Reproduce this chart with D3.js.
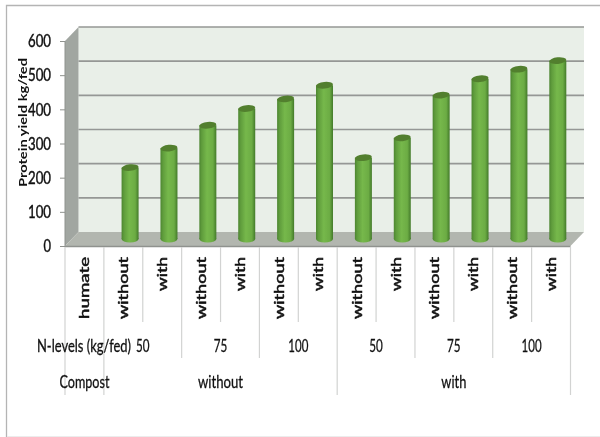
<!DOCTYPE html>
<html>
<head>
<meta charset="utf-8">
<script src="https://cdnjs.cloudflare.com/ajax/libs/d3/7.8.5/d3.min.js"></script>
<style>
html, body { margin: 0; padding: 0; background: #fff; }
svg { display: block; filter: blur(0.4px); }
text { font-family: Lato, "Liberation Sans", sans-serif; fill: #111; stroke: #111; stroke-width: 0.3px; }
</style>
</head>
<body>
<div id="chart"></div>
<script>
// Values
const humate = ["humate", "without", "with", "without", "with", "without", "with", "without", "with", "without", "with", "without", "with"];
const proteinYield = [null, 209, 266, 333, 382, 410, 450, 238, 296, 421, 469, 497, 522];
const yTicks = [0, 100, 200, 300, 400, 500, 600];
const nLevels = [
    { label: "50", start: 1, end: 3 },
    { label: "75", start: 3, end: 5 },
    { label: "100", start: 5, end: 7 },
    { label: "50", start: 7, end: 9 },
    { label: "75", start: 9, end: 11 },
    { label: "100", start: 11, end: 13 }
];
const compost = [
    { label: "without", start: 1, end: 7 },
    { label: "with", start: 7, end: 13 }
];

const width = 600;
const height = 437;
const depth = { x: 13.5, y: -14 };
const plot = { left: 65, right: 570.5, top: 41, bottom: 246 };

const svg = d3.select("#chart")
    .append("svg")
    .attr("width", width)
    .attr("height", height);

// Band edges are index based so the multi level axis can share them
const xEdge = d3.scaleLinear()
    .domain([0, 13])
    .range([plot.left, plot.right]);

const y = d3.scaleLinear()
    .domain([0, 600])
    .range([plot.bottom, plot.top]);

// Gradient for the cylinders
const defs = svg.append("defs");
const grad = defs.append("linearGradient").attr("id", "barFill");
[[0, "#4c8530"], [0.14, "#5f9c3c"], [0.45, "#76b84b"], [0.8, "#6cac44"], [1, "#437a2a"]].forEach(s => {
    grad.append("stop").attr("offset", s[0]).attr("stop-color", s[1]);
});

// Outer chart frame
svg.append("path")
    .attr("d", d3.line()([[6.5, 437], [6.5, 5.5], [600, 5.5]]))
    .attr("fill", "none")
    .attr("stroke", "#b4b4b4")
    .attr("stroke-width", 1.3);
svg.append("line")
    .attr("x1", 7).attr("x2", 600).attr("y1", 436.5).attr("y2", 436.5)
    .attr("stroke", "#ececec");

// Back wall
svg.append("rect")
    .attr("x", plot.left + depth.x)
    .attr("y", plot.top + depth.y)
    .attr("width", plot.right - plot.left)
    .attr("height", plot.bottom - plot.top)
    .attr("fill", "#e9efe8");

// Top edge of the wall
svg.append("line")
    .attr("x1", plot.left + depth.x)
    .attr("x2", plot.right + depth.x)
    .attr("y1", y(600) + depth.y)
    .attr("y2", y(600) + depth.y)
    .attr("stroke", "#959795")
    .attr("stroke-width", 1.4);

// Left wall and floor
svg.append("path")
    .attr("d", d3.line()([
        [plot.left, y(600)], [plot.left + depth.x, y(600) + depth.y],
        [plot.left + depth.x, y(0) + depth.y], [plot.left, y(0)]
    ]) + "Z")
    .attr("fill", "#a1a6a1");
svg.append("path")
    .attr("d", d3.line()([
        [plot.left, y(0)], [plot.left + depth.x, y(0) + depth.y],
        [plot.right + depth.x, y(0) + depth.y], [plot.right, y(0)]
    ]) + "Z")
    .attr("fill", "#b2b6af");

// Gridlines on the back wall
svg.selectAll(".grid")
    .data(yTicks.filter(d => d > 0 && d < 600))
    .enter()
    .append("line")
    .attr("class", "grid")
    .attr("x1", plot.left + depth.x)
    .attr("x2", plot.right + depth.x)
    .attr("y1", d => y(d) + depth.y)
    .attr("y2", d => y(d) + depth.y)
    .attr("stroke", "#959795")
    .attr("stroke-width", 1.6);

// Front edge of the floor and value axis
svg.append("line")
    .attr("x1", plot.left).attr("x2", plot.right)
    .attr("y1", y(0) + 0.5).attr("y2", y(0) + 0.5)
    .attr("stroke", "#8f928e").attr("stroke-width", 1.3);
svg.append("line")
    .attr("x1", plot.left).attr("x2", plot.left)
    .attr("y1", y(600)).attr("y2", y(0))
    .attr("stroke", "#8f928e");

const yAxis = d3.axisLeft(y)
    .tickValues(yTicks)
    .tickSize(5)
    .tickPadding(9)
    .tickFormat(d3.format("d"));
const yAxisG = svg.append("g")
    .attr("transform", "translate(" + plot.left + ",0)")
    .call(yAxis);
yAxisG.select(".domain").remove();
yAxisG.selectAll("line").attr("stroke", "#8f928e");
yAxisG.selectAll("text")
    .style("font-size", "18px")
    .style("font-family", "Lato, sans-serif")
    .style("stroke-width", "0.45px")
    .attr("lengthAdjust", "spacingAndGlyphs")
    .attr("textLength", d => d === 0 ? 7.5 : 23);

// Axis title
svg.append("text")
    .attr("transform", "translate(27,122.5) rotate(-90)")
    .attr("text-anchor", "middle")
    .style("font-size", "11px")
    .style("font-weight", "bold")
    .style("stroke-width", "0")
    .attr("lengthAdjust", "spacingAndGlyphs")
    .attr("textLength", 129)
    .text("Protein yield kg/fed");

// Cylinders stand half way into the depth of the floor
const barWidth = 17;
const barX = i => (xEdge(i) + xEdge(i + 1)) / 2 + depth.x / 2;
const barY = d => y(d) + depth.y / 2;
const bars = svg.selectAll(".bar")
    .data(proteinYield.map((v, i) => ({ v: v, i: i })).filter(d => d.v !== null))
    .enter()
    .append("g")
    .attr("class", "bar");

bars.append("ellipse")
    .attr("cx", d => barX(d.i))
    .attr("cy", barY(0))
    .attr("rx", barWidth / 2)
    .attr("ry", 3.4)
    .attr("fill", "url(#barFill)");
bars.append("rect")
    .attr("x", d => barX(d.i) - barWidth / 2)
    .attr("y", d => barY(d.v))
    .attr("width", barWidth)
    .attr("height", d => barY(0) - barY(d.v))
    .attr("fill", "url(#barFill)");
bars.append("ellipse")
    .attr("cx", d => barX(d.i))
    .attr("cy", d => barY(d.v))
    .attr("rx", barWidth / 2)
    .attr("ry", 3.3)
    .attr("transform", d => "rotate(-6," + barX(d.i) + "," + barY(d.v) + ")")
    .attr("fill", "#527f2e");

// Multi level category axis: separators
const dividerColor = "#d2d3d2";
const tier1Bottom = 322;
const tier2Bottom = 358;
const tier3Bottom = 395;

const tier1Edges = d3.range(0, 14);
const tier2Edges = [0, 1].concat(nLevels.map(d => d.end));
const tier3Edges = [0, 1].concat(compost.map(d => d.end));

function dividers(edges, top, bottom) {
    svg.append("g")
        .selectAll("line")
        .data(edges)
        .enter()
        .append("line")
        .attr("x1", d => xEdge(d))
        .attr("x2", d => xEdge(d))
        .attr("y1", top)
        .attr("y2", bottom)
        .attr("stroke", dividerColor)
        .attr("stroke-width", 1.2);
}
dividers(tier1Edges, y(0) + 1, tier1Bottom);
dividers(tier2Edges, tier1Bottom, tier2Bottom);
dividers(tier3Edges, tier2Bottom, tier3Bottom);

// Humate labels, rotated and stretched along the axis like the original
svg.selectAll(".humate")
    .data(humate)
    .enter()
    .append("text")
    .attr("class", "humate")
    .attr("transform", (d, i) => "translate(" + ((xEdge(i) + xEdge(i + 1)) / 2 + 5) + ",257) rotate(-90)")
    .attr("text-anchor", "end")
    .style("font-size", "14px")
    .style("stroke-width", "0.5px")
    .attr("lengthAdjust", "spacingAndGlyphs")
    .attr("textLength", d => d === "with" ? 34 : 62)
    .text(d => d);

// N-level and compost labels
const levelCenter = d => (xEdge(d.start) + xEdge(d.end)) / 2;
svg.selectAll(".level")
    .data(nLevels)
    .enter()
    .append("text")
    .attr("class", "level")
    .attr("x", levelCenter)
    .attr("y", 352)
    .attr("text-anchor", "middle")
    .style("font-size", "17px")
    .attr("lengthAdjust", "spacingAndGlyphs")
    .attr("textLength", d => d.label === "100" ? 20 : 13.5)
    .text(d => d.label);
svg.append("text")
    .attr("x", 37).attr("y", 352)
    .style("font-size", "17px")
    .attr("lengthAdjust", "spacingAndGlyphs")
    .attr("textLength", 94)
    .text("N-levels (kg/fed)");

svg.selectAll(".compost")
    .data(compost)
    .enter()
    .append("text")
    .attr("class", "compost")
    .attr("x", levelCenter)
    .attr("y", 388)
    .attr("text-anchor", "middle")
    .style("font-size", "17px")
    .attr("lengthAdjust", "spacingAndGlyphs")
    .attr("textLength", d => d.label === "with" ? 25 : 45)
    .text(d => d.label);
svg.append("text")
    .attr("x", (xEdge(0) + xEdge(1)) / 2)
    .attr("y", 388)
    .attr("text-anchor", "middle")
    .style("font-size", "17px")
    .attr("lengthAdjust", "spacingAndGlyphs")
    .attr("textLength", 50)
    .text("Compost");
</script>
</body>
</html>
